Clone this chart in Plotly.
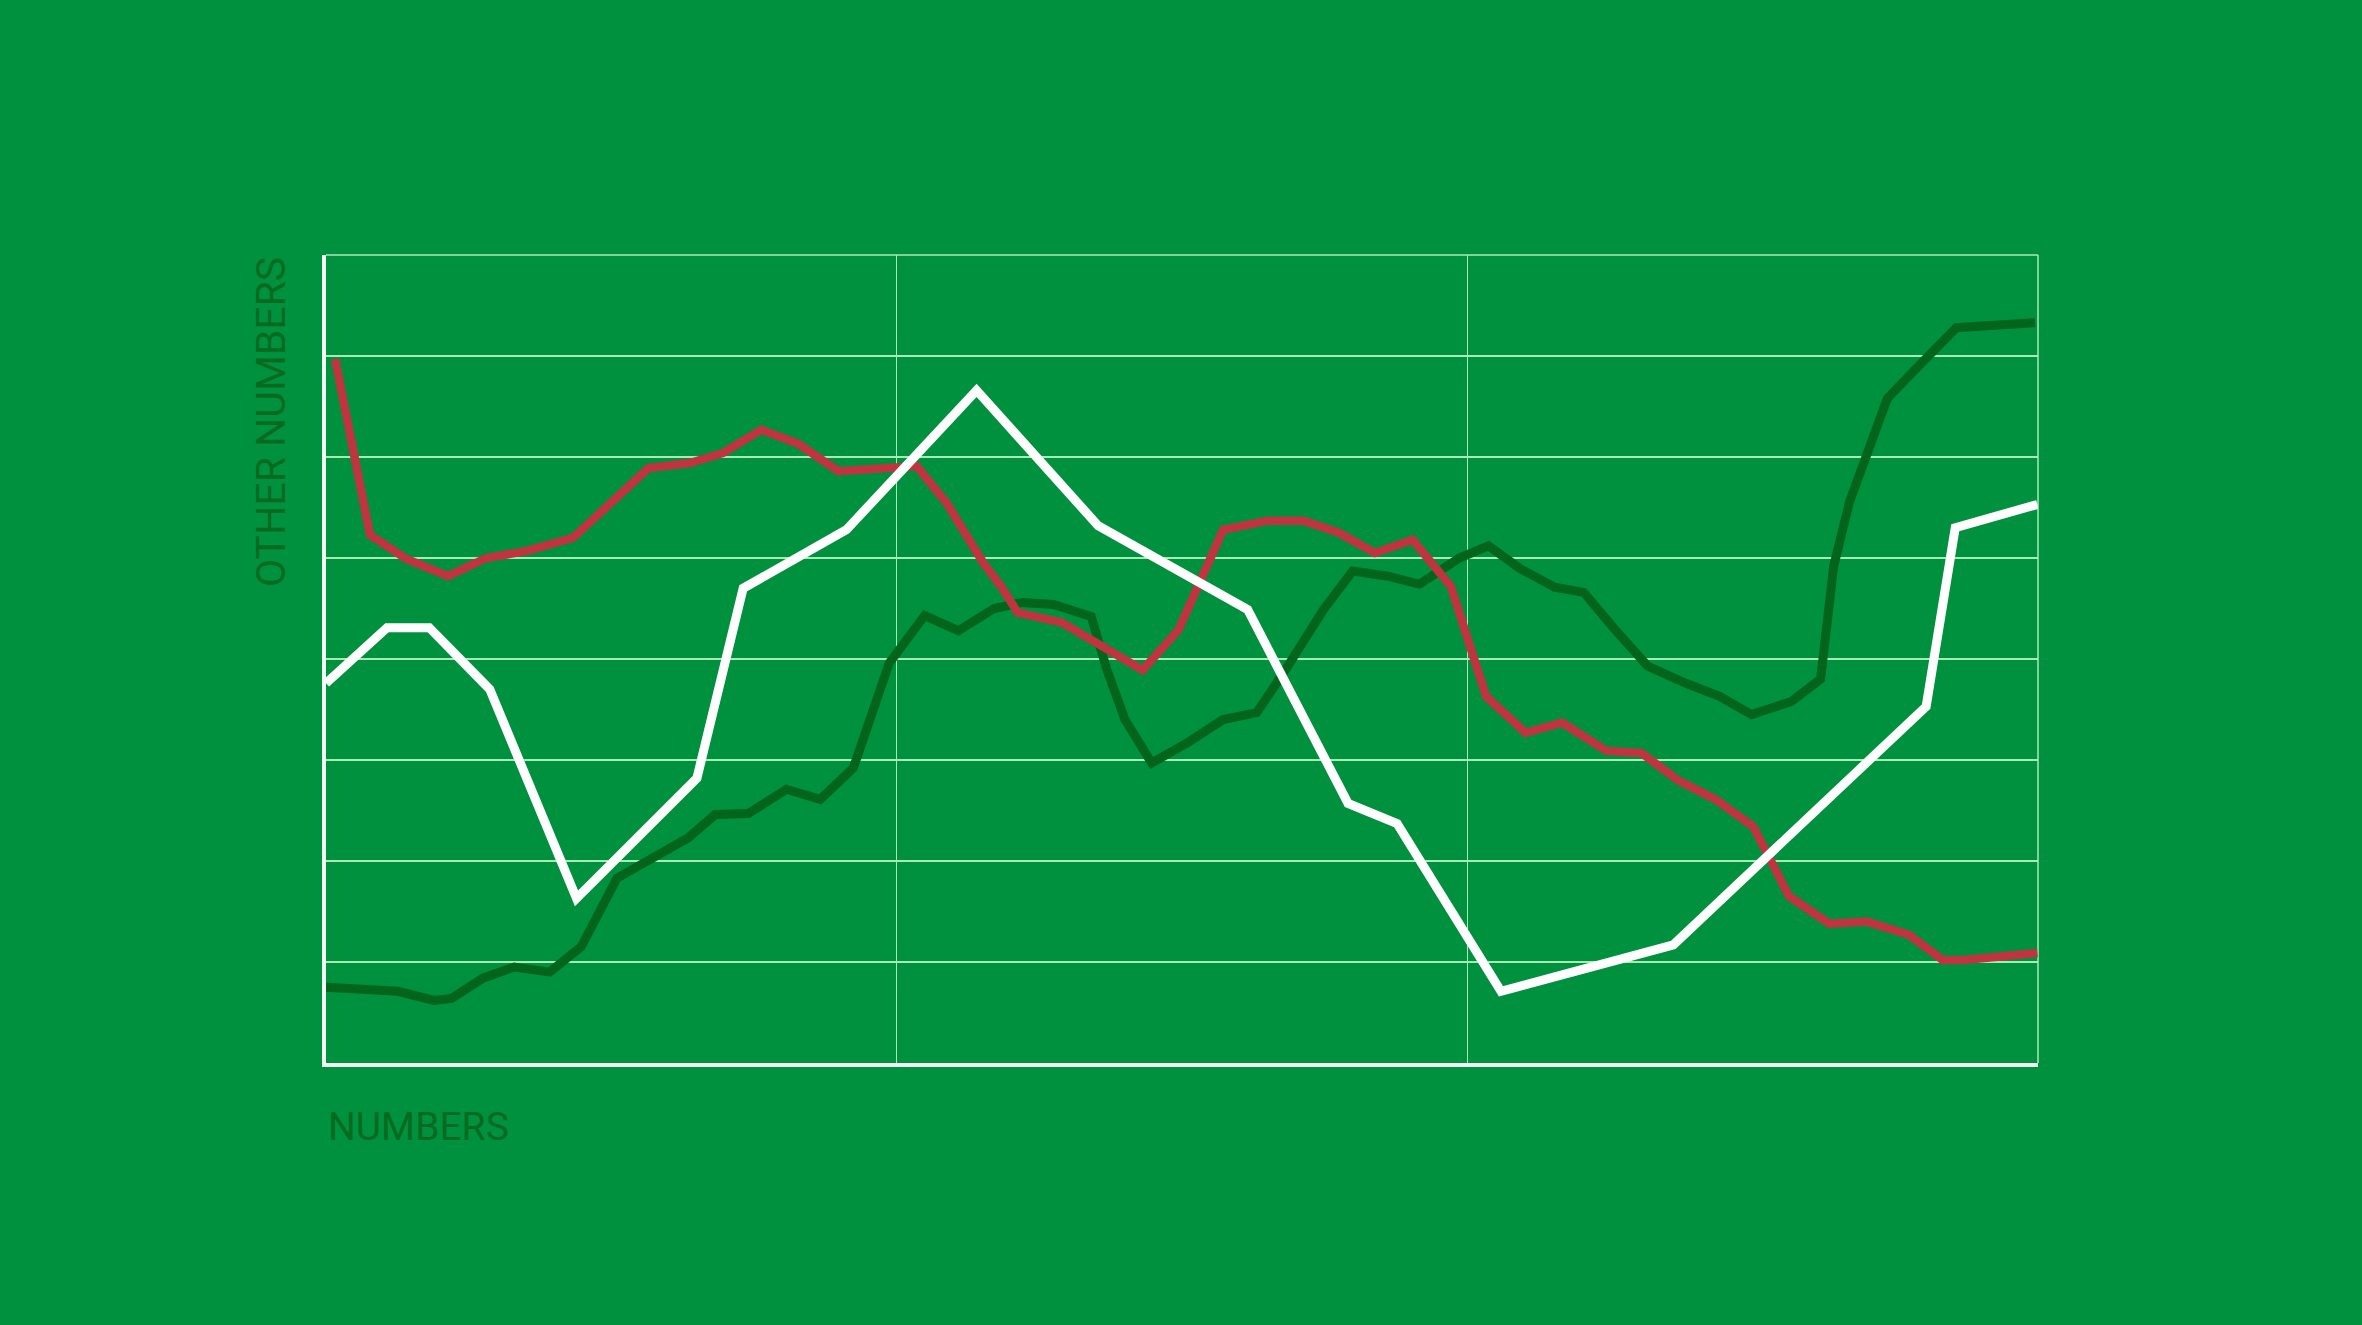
import plotly.graph_objects as go

# ---- data ----
red_x = [0.16, 0.77, 1.41, 2.14, 2.81, 3.52, 4.33, 4.98, 5.65, 6.38, 6.96, 7.63, 8.28, 8.98,
         9.71, 10.35, 10.87, 11.52, 11.84, 12.12, 12.90, 13.53, 14.31, 14.94, 15.72, 16.50,
         17.13, 17.75, 18.38, 19.04, 19.71, 20.33, 21.02, 21.66, 22.44, 23.05, 23.69, 24.35,
         25.01, 25.64, 26.34, 27.00, 27.74, 28.33, 28.70, 29.99]
red_y = [6.97, 5.23, 4.99, 4.82, 5.00, 5.07, 5.20, 5.53, 5.89, 5.94, 6.04, 6.27, 6.13, 5.86,
         5.89, 5.91, 5.55, 4.95, 4.71, 4.46, 4.36, 4.16, 3.89, 4.29, 5.28, 5.37,
         5.37, 5.25, 5.05, 5.18, 4.72, 3.63, 3.27, 3.37, 3.09, 3.07, 2.80, 2.61,
         2.34, 1.65, 1.38, 1.40, 1.27, 1.02, 1.02, 1.09]

white_x = [0.0, 1.07, 1.81, 2.87, 4.39, 6.50, 7.31, 9.12, 11.40, 13.53, 16.15, 17.91, 18.77,
           20.59, 23.61, 28.04, 28.55, 29.99]
white_y = [3.76, 4.31, 4.31, 3.70, 1.63, 2.82, 4.70, 5.28, 6.66, 5.32, 4.49, 2.57, 2.37,
           0.71, 1.17, 3.53, 5.30, 5.53]

dkgreen_x = [0.0, 1.26, 1.89, 2.20, 2.75, 3.30, 3.92, 4.47, 5.10, 5.72, 6.35, 6.82, 7.40,
             8.07, 8.66, 9.24, 9.87, 10.49, 11.08, 11.71, 12.20, 12.75, 13.41, 13.68, 14.00,
             14.47, 15.09, 15.72, 16.31, 16.81, 17.48, 17.99, 18.61, 19.16, 19.86, 20.37,
             20.94, 21.53, 22.04, 22.59, 23.16, 23.83, 24.42, 24.98, 25.68, 26.19, 26.42,
             26.70, 27.36, 27.94, 28.57, 29.95]
dkgreen_y = [0.75, 0.71, 0.62, 0.64, 0.84, 0.95, 0.90, 1.15, 1.83, 2.03, 2.23, 2.46, 2.47,
             2.71, 2.61, 2.92, 3.96, 4.43, 4.28, 4.50, 4.56, 4.54, 4.42, 3.90, 3.40,
             2.97, 3.17, 3.40, 3.47, 3.89, 4.49, 4.87, 4.82, 4.74, 5.00, 5.12,
             4.89, 4.71, 4.66, 4.29, 3.93, 3.76, 3.63, 3.45, 3.58, 3.80, 4.92,
             5.56, 6.58, 6.92, 7.28, 7.33]

x_title = "NUMBERS"
y_title = "OTHER NUMBERS"

# ---- styling ----
BG = "#00913F"
GRID = "#A8EBB4"
TXT = "#066B20"
FONT = "Roboto, sans-serif"

fig = go.Figure()
fig.add_trace(go.Scatter(x=dkgreen_x, y=dkgreen_y, mode="lines",
                         line=dict(color="#03651C", width=9), hoverinfo="skip"))
fig.add_trace(go.Scatter(x=red_x, y=red_y, mode="lines",
                         line=dict(color="#BE343F", width=8.5), hoverinfo="skip"))
fig.add_trace(go.Scatter(x=white_x, y=white_y, mode="lines",
                         line=dict(color="#FFFFFF", width=9), hoverinfo="skip"))

fig.update_layout(
    width=2362, height=1325,
    paper_bgcolor=BG, plot_bgcolor=BG,
    margin=dict(l=326, r=324, t=255, b=262),
    showlegend=False,
    hovermode=False,
    xaxis=dict(range=[0, 30], dtick=10, tick0=0, showgrid=True, gridcolor=GRID, gridwidth=1.5,
               zeroline=False, showticklabels=False, ticks="",
               showline=True, linecolor="#F2FFF5", linewidth=4),
    yaxis=dict(range=[0, 8], dtick=1, tick0=0, showgrid=True, gridcolor=GRID, gridwidth=1.5,
               zeroline=False, showticklabels=False, ticks="",
               showline=True, linecolor="#F2FFF5", linewidth=4),
    shapes=[
        dict(type="line", xref="paper", yref="paper", x0=0, x1=1, y0=1, y1=1,
             line=dict(color=GRID, width=1.5), layer="below"),
        dict(type="line", xref="paper", yref="paper", x0=1, x1=1, y0=0, y1=1,
             line=dict(color=GRID, width=1.5), layer="below"),
    ],
    annotations=[
        dict(text=x_title, xref="paper", yref="paper", x=0, y=-0.079,
             xanchor="left", yanchor="middle", showarrow=False,
             font=dict(family=FONT, size=39, color=TXT)),
        dict(text=y_title, xref="paper", yref="paper", x=-0.0321, y=1,
             xanchor="center", yanchor="top", textangle=-90, showarrow=False,
             font=dict(family=FONT, size=41, color=TXT)),
    ],
)

fig.write_html(
    "out.html",
    config={"displayModeBar": False, "staticPlot": True},
    post_script="document.body.style.margin='0';document.body.style.background='#00913F';",
)
